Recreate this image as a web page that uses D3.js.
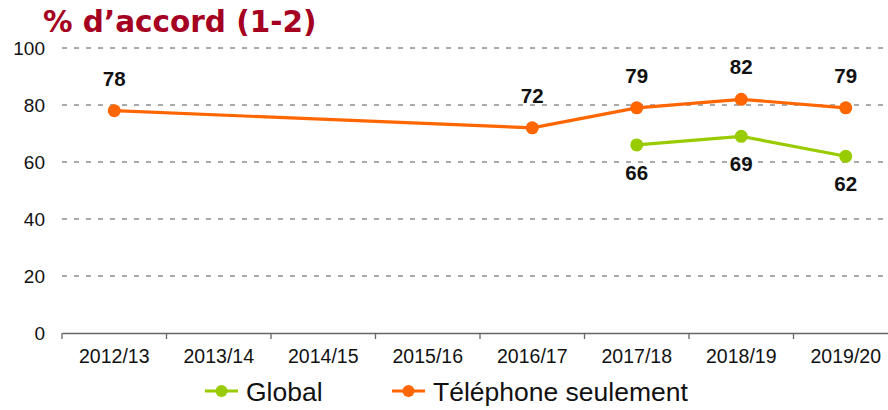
<!DOCTYPE html>
<html>
<head>
<meta charset="utf-8">
<script src="https://cdn.jsdelivr.net/npm/d3@7"></script>
<style>
  body { margin: 0; background: #fff; }
  text { font-family: "Liberation Sans", Arial, sans-serif; }
</style>
</head>
<body>
<svg id="chart" width="888" height="410"></svg>
<script>
// data
var years = ["2012/13", "2013/14", "2014/15", "2015/16", "2016/17", "2017/18", "2018/19", "2019/20"];
var globalYears = ["2017/18", "2018/19", "2019/20"];
var globalValues = [66, 69, 62];
var phoneYears = ["2012/13", "2016/17", "2017/18", "2018/19", "2019/20"];
var phoneValues = [78, 72, 79, 82, 79];
var yTicks = [0, 20, 40, 60, 80, 100];

var green = "#99CC00", orange = "#FF6600";

var svg = d3.select("#chart");

var x = d3.scaleBand().domain(years).range([62, 898]);
var y = d3.scaleLinear().domain([0, 100]).range([333, 48]);

// title
svg.append("text")
    .attr("x", 43).attr("y", 32)
    .style("font-family", "'DejaVu Sans', Verdana, sans-serif")
    .style("font-size", "29.5px").style("font-weight", "bold")
    .attr("fill", "#A50021")
    .text("% d\u2019accord (1-2)");

// gridlines
svg.append("g").selectAll("line")
    .data(yTicks.filter(function(d) { return d > 0; }))
    .enter().append("line")
    .attr("x1", 62).attr("x2", 888)
    .attr("y1", function(d) { return y(d); })
    .attr("y2", function(d) { return y(d); })
    .attr("stroke", "#555").attr("stroke-width", 1)
    .attr("stroke-dasharray", "5,7");

// y labels
svg.append("g").selectAll("text")
    .data(yTicks)
    .enter().append("text")
    .attr("x", 45).attr("y", function(d) { return y(d) + 6.5; })
    .attr("text-anchor", "end").style("font-size", "19px").attr("fill", "#111")
    .text(function(d) { return d; });

// x axis
var xAxis = svg.append("g")
    .attr("transform", "translate(0,333)")
    .call(d3.axisBottom(x).tickSize(0).tickPadding(16));
xAxis.select(".domain").attr("stroke", "#666").attr("stroke-width", 1.3);
xAxis.selectAll("text").attr("fill", "#111")
    .style("font-size", "19.5px")
    .style("font-family", "'Liberation Sans', Arial, sans-serif");
// category separator ticks
xAxis.selectAll(".sep")
    .data(years.concat(["end"]))
    .enter().append("line")
    .attr("class", "sep")
    .attr("x1", function(d, i) { return 62 + i * x.step(); })
    .attr("x2", function(d, i) { return 62 + i * x.step(); })
    .attr("y1", 0).attr("y2", 6)
    .attr("stroke", "#666").attr("stroke-width", 1.3);

function cx(d) { return x(d) + x.bandwidth() / 2; }

function drawSeries(cats, vals, color, above) {
    var pts = cats.map(function(c, i) { return { c: c, v: vals[i] }; });
    var line = d3.line()
        .x(function(d) { return cx(d.c); })
        .y(function(d) { return y(d.v); });
    svg.append("path").datum(pts)
        .attr("d", line).attr("fill", "none")
        .attr("stroke", color).attr("stroke-width", 3.2);
    svg.append("g").selectAll("circle")
        .data(pts).enter().append("circle")
        .attr("cx", function(d) { return cx(d.c); })
        .attr("cy", function(d) { return y(d.v); })
        .attr("r", 6.5).attr("fill", color);
    svg.append("g").selectAll("text")
        .data(pts).enter().append("text")
        .attr("x", function(d) { return cx(d.c); })
        .attr("y", function(d) { return y(d.v) + (above ? -25 : 35); })
        .attr("text-anchor", "middle")
        .style("font-size", "20.5px").style("font-weight", "bold").attr("fill", "#111")
        .text(function(d) { return d.v; });
}

drawSeries(globalYears, globalValues, green, false);
drawSeries(phoneYears, phoneValues, orange, true);

// legend
var legend = [
    { name: "Global", color: green, x: 205 },
    { name: "T\u00e9l\u00e9phone seulement", color: orange, x: 392 }
];
var lg = svg.append("g").selectAll("g")
    .data(legend).enter().append("g")
    .attr("transform", function(d) { return "translate(" + d.x + ",391)"; });
lg.append("line").attr("x1", 0).attr("x2", 33).attr("y1", 0).attr("y2", 0)
    .attr("stroke", function(d) { return d.color; }).attr("stroke-width", 3);
lg.append("circle").attr("cx", 16.5).attr("cy", 0).attr("r", 6)
    .attr("fill", function(d) { return d.color; });
lg.append("text").attr("x", 41).attr("y", 9.5)
    .style("font-size", "26.5px").attr("fill", "#111")
    .text(function(d) { return d.name; });
</script>
</body>
</html>
